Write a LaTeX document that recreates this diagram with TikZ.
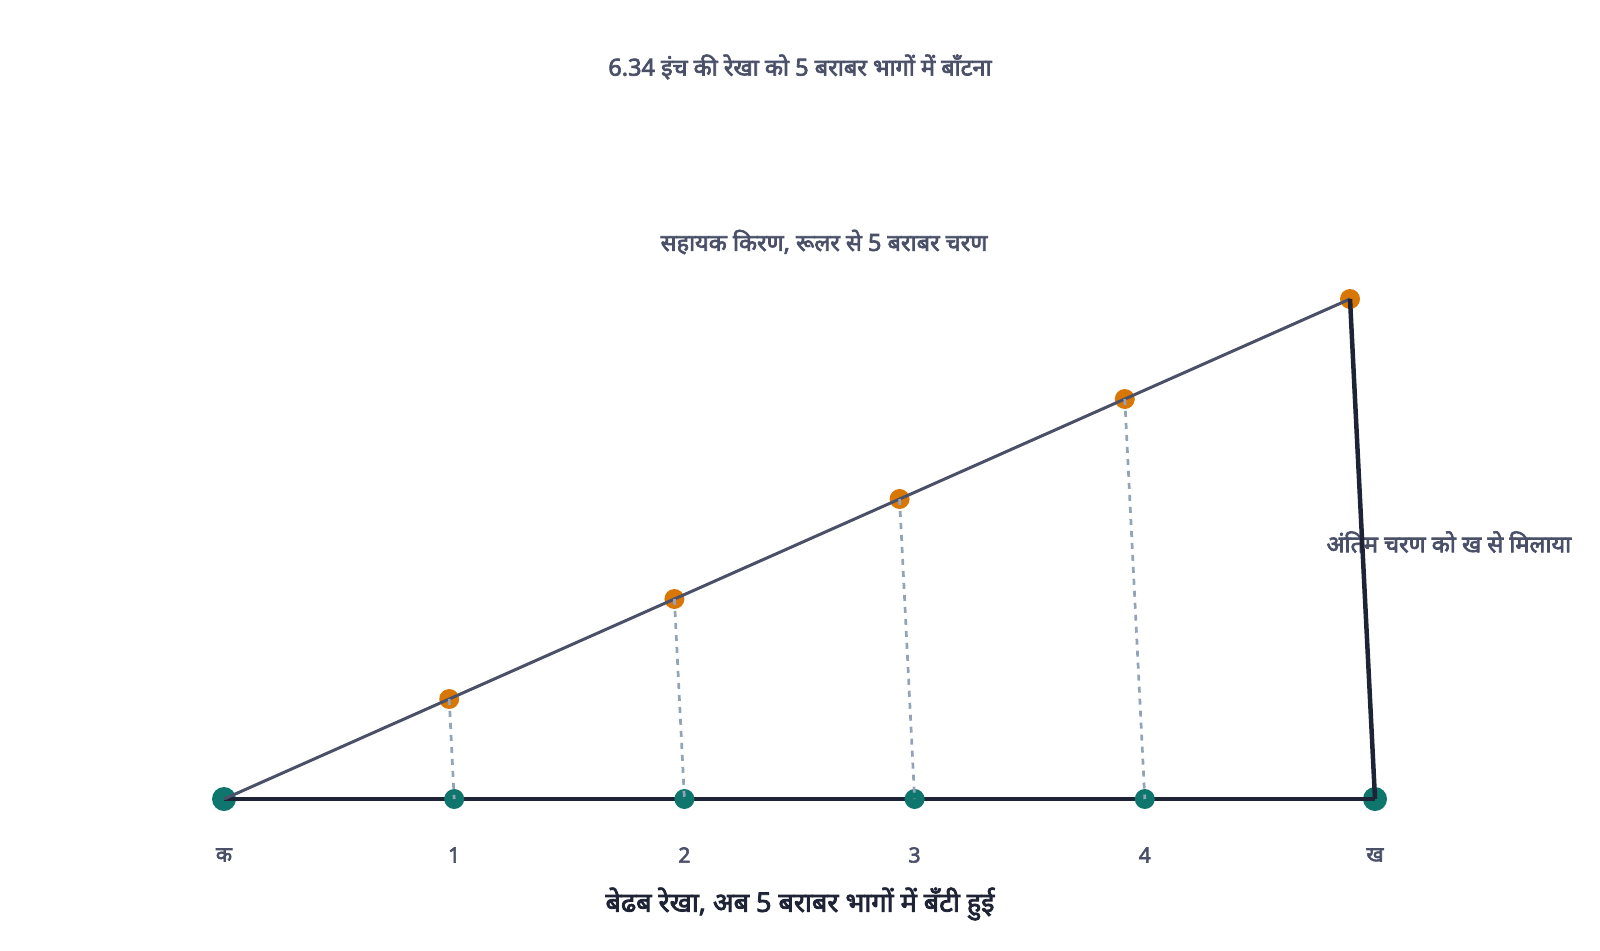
\documentclass[tikz,border=0pt]{standalone}
\usepackage{fontspec}
\setmainfont{Noto Sans}
\newfontfamily\hindi[Script=Devanagari, AutoFakeBold=3]{Noto Sans}
\usetikzlibrary{calc}
\definecolor{inkdark}{HTML}{1E2435}
\definecolor{inkslate}{HTML}{4A5068}
\definecolor{dashgrey}{HTML}{94A3B8}
\definecolor{dotteal}{HTML}{0F766E}
\definecolor{dotorange}{HTML}{D97706}
\tikzset{
	enddot/.style={circle, fill=dotteal, inner sep=0pt, minimum size=24pt},
	divdot/.style={circle, fill=dotteal, inner sep=0pt, minimum size=20pt},
	raydot/.style={circle, fill=dotorange, inner sep=0pt, minimum size=20pt},
	ticklabel/.style={text=inkslate, font=\hindi\bfseries\fontsize{21}{24}\selectfont},
	note/.style={text=inkslate, font=\hindi\bfseries\fontsize{23.5}{27}\selectfont},
}

\begin{document}
\begin{tikzpicture}[x=1pt, y=-1pt]
		%%%%% START %%%%%
		\useasboundingbox (0, 0) rectangle (1600, 950);
		
		\node[note] (title) at (800, 67) {6.34 इंच की रेखा को 5 बराबर भागों में बाँटना};
		\node[note] (raynote) at (824, 242) {सहायक किरण, रूलर से 5 बराबर चरण};
		\node[note, anchor=west] (joinnote) at (1323, 542) {अंतिम चरण को ख से मिलाया};
		
		% line and its ends
		\node[enddot] (k) at (224, 799) {};
		\node[enddot] (b) at (1375, 799) {};
		\draw[line width=4.5pt, color=inkdark] (k.center) -- (b.center);
		
		% points on the line and on the ray
		\foreach \i in {1,...,4}
			\node[divdot] (d\i) at ($(k)!\i/5!(b)$) {};
		\coordinate (t) at (1350, 299);
		\foreach \i in {1,...,5}
			\node[raydot] (r\i) at ($(k)!\i/5!(t)$) {};
		
		\draw[line width=3pt, color=inkslate] (k.center) -- (r5.center);
		\foreach \i in {1,...,4}
			\draw[line width=2.7pt, color=dashgrey, dash pattern=on 6pt off 6pt] (r\i.center) -- (d\i.center);
		\draw[line width=4.5pt, color=inkdark] (r5.center) -- (b.center);
		
		% labels under the line
		\node[ticklabel] (lk) at (224, 855) {क};
		\foreach \i in {1,...,4}
			\node[ticklabel] (l\i) at ($(d\i)+(0, 56)$) {\i};
		\node[ticklabel] (lb) at (1375, 855) {ख};
		
		\node[text=inkdark, font=\hindi\bfseries\fontsize{27}{31}\selectfont] (caption) at (800, 904) {बेढब रेखा, अब 5 बराबर भागों में बँटी हुई};
		%%%%% END %%%%%
\end{tikzpicture}
\end{document}
